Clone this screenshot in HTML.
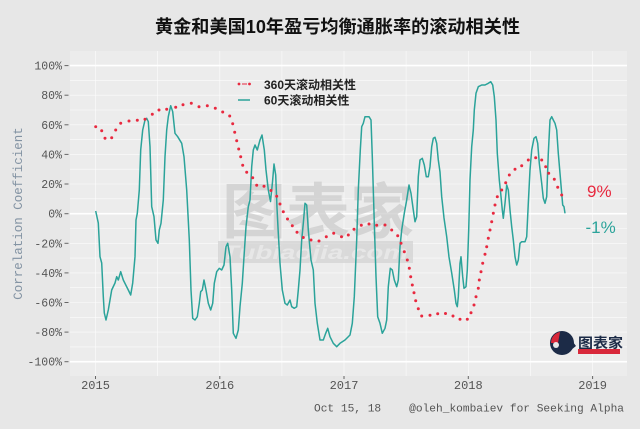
<!DOCTYPE html>
<html><head><meta charset="utf-8"><style>
html,body{margin:0;padding:0;background:#e7e7e7;}
svg{display:block;}
</style></head><body>
<svg width="640" height="429" viewBox="0 0 640 429" xmlns="http://www.w3.org/2000/svg">
<rect x="0" y="0" width="640" height="429" fill="#e7e7e7"/>
<!-- title -->
<text x="337.5" y="33" text-anchor="middle" font-family="Liberation Sans, Noto Sans CJK SC, sans-serif" font-weight="bold" font-size="18" textLength="365" lengthAdjust="spacingAndGlyphs" fill="#111">黄金和美国10年盈亏均衡通胀率的滚动相关性</text>
<!-- panel -->
<rect x="70" y="51" width="557" height="325" fill="#ececec"/>
<g stroke="#ffffff" stroke-width="0.6" opacity="0.85">
<line x1="70" x2="627" y1="80.4" y2="80.4"/><line x1="70" x2="627" y1="95.2" y2="95.2"/><line x1="70" x2="627" y1="110" y2="110"/>
<line x1="70" x2="627" y1="124.8" y2="124.8"/><line x1="70" x2="627" y1="139.6" y2="139.6"/><line x1="70" x2="627" y1="154.4" y2="154.4"/>
<line x1="70" x2="627" y1="169.2" y2="169.2"/><line x1="70" x2="627" y1="184" y2="184"/><line x1="70" x2="627" y1="198.8" y2="198.8"/>
<line x1="70" x2="627" y1="228.5" y2="228.5"/><line x1="70" x2="627" y1="243.3" y2="243.3"/><line x1="70" x2="627" y1="258.1" y2="258.1"/>
<line x1="70" x2="627" y1="272.9" y2="272.9"/><line x1="70" x2="627" y1="287.7" y2="287.7"/><line x1="70" x2="627" y1="302.5" y2="302.5"/>
<line x1="70" x2="627" y1="317.3" y2="317.3"/><line x1="70" x2="627" y1="332.1" y2="332.1"/><line x1="70" x2="627" y1="346.9" y2="346.9"/>
<line y1="51" y2="376" x1="95.5" x2="95.5"/><line y1="51" y2="376" x1="157.6" x2="157.6"/><line y1="51" y2="376" x1="219.8" x2="219.8"/>
<line y1="51" y2="376" x1="281.9" x2="281.9"/><line y1="51" y2="376" x1="344" x2="344"/><line y1="51" y2="376" x1="406.1" x2="406.1"/>
<line y1="51" y2="376" x1="468.3" x2="468.3"/><line y1="51" y2="376" x1="530.4" x2="530.4"/><line y1="51" y2="376" x1="592.6" x2="592.6"/>
</g>
<g stroke="#ffffff" stroke-width="1.6">
<line x1="70" x2="627" y1="65.6" y2="65.6"/><line x1="70" x2="627" y1="213.7" y2="213.7"/><line x1="70" x2="627" y1="361.7" y2="361.7"/>
</g>
<!-- watermark -->
<g opacity="0.75">
<text x="222" y="233" font-family="Liberation Sans, Noto Sans CJK SC, sans-serif" font-weight="bold" font-size="60" textLength="192" lengthAdjust="spacingAndGlyphs" fill="#cdcdcd">图表家</text>
<rect x="218" y="241" width="195" height="22" fill="#d3d3d3"/>
<text x="222" y="259" font-family="Liberation Sans, sans-serif" font-weight="bold" font-style="italic" font-size="19" textLength="186" lengthAdjust="spacingAndGlyphs" fill="#e6e6e6">Tubiaojia.com</text>
</g>
<!-- teal series -->
<polyline fill="none" stroke="#2ba39a" stroke-width="1.5" stroke-linejoin="round" points="95.7,211 98.3,223 100,256.7 101.7,263 103.3,296.7 104.3,313 106,320 108.3,310 110,300 111.7,290 115,283 116.7,276.7 118.3,280 120.7,271.7 123.3,280 128.3,290 130.7,295 132.7,283 135,256.7 136,220 137.3,213.3 139.3,190 140.7,150 142.7,130 145,120 146.7,118.3 148.3,121.7 150,146.7 151.7,206.7 154,216.7 156,240 158,243.3 159.3,230 161,223.3 163.3,200 165,156.7 166.7,130 168.3,116.7 170.7,105.7 172.7,111.7 175,133.3 177.7,136.7 181.7,143.3 184,156.7 186.7,190 189.3,240 191,290 192.7,318.3 195,320 197.3,316.7 199.3,303.3 200.7,291.7 202.3,290 204,280 206,290 208.3,303.3 210.7,310 212.7,303.3 214.3,283.3 216.7,271.7 219.3,268.3 221.7,270 224,265 226,246.7 227.7,243.3 230,256.7 231.7,290 233.3,333.3 236,338.3 238.3,330 240,306.7 242.3,283.3 244,256.7 246,226.7 248.3,206.7 250,200 251.7,166.7 253.3,150 255,145 257.3,150 260,140 262,135 264.3,150 266,170 268.3,190 270.5,201.5 272.5,182 274,164 275.7,175 277,208 278.3,233.3 280,263.3 282.3,290 285,303.3 287.3,305 290,300 291.7,306.7 294.3,308.3 296.7,306.7 298.3,290 300,270 301.7,240 303.3,223.3 305,203.3 306.7,205 308.3,230 311,260 313.3,270 315,303.3 317.3,323.3 320,340 323.3,340 325.7,333.3 327.7,328.3 330,336.7 333.3,343.3 336.7,346.7 340,343.3 345,340 350,335 352.3,323.3 354.3,296.7 356.7,240 358.3,190 360.3,150 361.7,126.7 363.3,123.3 365,116.7 369,116.7 371,120 372.3,156.7 374.3,223.3 376,276.7 377.7,316.7 380,323.3 382.3,333.3 385,328.3 386.7,320 388.3,286.7 390.3,268.3 392.3,270 394.3,280 396.7,286.7 398.3,280 400,246.7 401.7,230 404.3,213.3 406.7,200 409,185 411,193.3 413.3,210 415,221.7 416.7,216.7 418.3,176.7 420,160 422.3,158.3 424.3,165 426.3,176.7 428.3,176.7 430,166.7 431.7,146.7 433.3,138.3 435,137.3 436.7,143.3 438.3,160 440,172 441.7,196.7 444,218 446.7,236.7 449,257 451.7,273 454.3,290 456,303.3 457.3,306.7 458.3,296.7 460,263.3 461,256.7 462.7,276.7 464,288.3 466,286.7 467.3,270 468.7,230 470,180 471.7,146.7 473.3,130 474.3,110 476,93.3 478.3,86.7 481.7,85 485,85 488.3,83.3 490.7,81.7 492.7,85 494.3,96.7 496,120 497.3,153.3 499.3,180 500.7,193.3 502.3,210 503.3,218.3 505,203.3 506.7,185 508.3,190 510,210 511.7,226.7 513.3,240 515,256.7 516.7,265 518.3,260 520,243.3 521.7,241.7 525,241.7 526.7,236.7 528.3,203.3 530,170 531.7,150 534,138.3 536,136.7 537.7,143.3 539.3,163.3 541.7,183.3 543.3,198.3 545,203.3 546.7,196.7 548.3,153.3 550,120 551.7,116.7 553.3,120 555,123.3 556.7,130 558.3,153.3 560,173.3 561.7,193.3 562.7,205 564,206.7 565,213.3"/>
<!-- red dotted series -->
<g fill="#e8293f">
<circle cx="95.7" cy="126.7" r="1.5"/><circle cx="101.7" cy="130.7" r="1.5"/><circle cx="105" cy="138.3" r="1.5"/><circle cx="111.7" cy="137.7" r="1.5"/><circle cx="115.7" cy="130" r="1.5"/><circle cx="120.7" cy="123.3" r="1.5"/><circle cx="129" cy="121" r="1.5"/><circle cx="137.3" cy="120.3" r="1.5"/><circle cx="145" cy="119.3" r="1.5"/><circle cx="152.3" cy="114.3" r="1.5"/><circle cx="159" cy="110" r="1.5"/><circle cx="166.7" cy="109.3" r="1.5"/><circle cx="175.7" cy="107.3" r="1.5"/><circle cx="183" cy="104.7" r="1.5"/><circle cx="191.3" cy="103.3" r="1.5"/><circle cx="199" cy="106.7" r="1.5"/><circle cx="207.3" cy="105.7" r="1.5"/><circle cx="215.3" cy="108.3" r="1.5"/><circle cx="222.7" cy="112" r="1.5"/><circle cx="229.7" cy="116" r="1.5"/><circle cx="232.7" cy="123.7" r="1.5"/><circle cx="234.7" cy="132.3" r="1.5"/><circle cx="236.7" cy="140.7" r="1.5"/><circle cx="238.7" cy="149" r="1.5"/><circle cx="240.7" cy="156.7" r="1.5"/><circle cx="242.7" cy="165.3" r="1.5"/><circle cx="246.7" cy="172.3" r="1.5"/><circle cx="252.7" cy="177.7" r="1.5"/><circle cx="256.7" cy="185.3" r="1.5"/><circle cx="264" cy="186.3" r="1.5"/><circle cx="271" cy="190.5" r="1.5"/><circle cx="276.7" cy="196.3" r="1.5"/><circle cx="280" cy="204" r="1.5"/><circle cx="283.3" cy="211.7" r="1.5"/><circle cx="287.5" cy="219" r="1.5"/><circle cx="292.3" cy="225.7" r="1.5"/><circle cx="297" cy="232.3" r="1.5"/><circle cx="303.3" cy="237.5" r="1.5"/><circle cx="311" cy="240" r="1.5"/><circle cx="319" cy="241" r="1.5"/><circle cx="326.3" cy="236.7" r="1.5"/><circle cx="333.7" cy="233.3" r="1.5"/><circle cx="341.5" cy="236.7" r="1.5"/><circle cx="348.3" cy="235" r="1.5"/><circle cx="354" cy="229.3" r="1.5"/><circle cx="361.3" cy="225.2" r="1.5"/><circle cx="369" cy="224" r="1.5"/><circle cx="376.7" cy="225.3" r="1.5"/><circle cx="385" cy="225" r="1.5"/><circle cx="391.7" cy="230" r="1.5"/><circle cx="397.7" cy="235.8" r="1.5"/><circle cx="401" cy="243.3" r="1.5"/><circle cx="404.3" cy="251.7" r="1.5"/><circle cx="407.3" cy="260" r="1.5"/><circle cx="409.3" cy="268.3" r="1.5"/><circle cx="410.7" cy="276.7" r="1.5"/><circle cx="412.3" cy="285" r="1.5"/><circle cx="414" cy="292.7" r="1.5"/><circle cx="415.7" cy="300.7" r="1.5"/><circle cx="418.3" cy="308.7" r="1.5"/><circle cx="421.7" cy="316" r="1.5"/><circle cx="430" cy="315.3" r="1.5"/><circle cx="437.7" cy="313.7" r="1.5"/><circle cx="445.5" cy="313.5" r="1.5"/><circle cx="453" cy="316" r="1.5"/><circle cx="460" cy="319.3" r="1.5"/><circle cx="467.3" cy="319.3" r="1.5"/><circle cx="471" cy="312.7" r="1.5"/><circle cx="474" cy="305" r="1.5"/><circle cx="476" cy="296.7" r="1.5"/><circle cx="478.3" cy="288.3" r="1.5"/><circle cx="479.3" cy="280" r="1.5"/><circle cx="481" cy="271.7" r="1.5"/><circle cx="482.7" cy="263.3" r="1.5"/><circle cx="485" cy="254.3" r="1.5"/><circle cx="486.7" cy="246.7" r="1.5"/><circle cx="488.3" cy="238.3" r="1.5"/><circle cx="490" cy="230" r="1.5"/><circle cx="491.7" cy="221.7" r="1.5"/><circle cx="493.3" cy="213.3" r="1.5"/><circle cx="495" cy="205" r="1.5"/><circle cx="497.3" cy="196.7" r="1.5"/><circle cx="501.7" cy="190" r="1.5"/><circle cx="505.7" cy="182.7" r="1.5"/><circle cx="509.3" cy="175" r="1.5"/><circle cx="515" cy="169.3" r="1.5"/><circle cx="521.7" cy="165.7" r="1.5"/><circle cx="528.3" cy="160" r="1.5"/><circle cx="535.7" cy="157.7" r="1.5"/><circle cx="541.7" cy="160" r="1.5"/><circle cx="545.7" cy="166.7" r="1.5"/><circle cx="548.7" cy="173.3" r="1.5"/><circle cx="554.3" cy="179.3" r="1.5"/><circle cx="557.7" cy="187.3" r="1.5"/><circle cx="561.7" cy="195" r="1.5"/>
</g>
<!-- end labels -->
<text x="587" y="197" font-family="Liberation Sans, sans-serif" font-size="17" fill="#e8293f">9%</text>
<text x="585.5" y="233" font-family="Liberation Sans, sans-serif" font-size="17" fill="#2ba39a">-1%</text>
<!-- legend -->
<circle cx="239" cy="84" r="1.4" fill="#e8293f"/><line x1="242" x2="247" y1="84" y2="84" stroke="#e8293f" stroke-width="1"/><circle cx="249.5" cy="84" r="1.4" fill="#e8293f"/>
<line x1="238" x2="250" y1="100" y2="100" stroke="#2ba39a" stroke-width="1.5"/>
<text x="264" y="88.8" font-family="Liberation Sans, Noto Sans CJK SC, sans-serif" font-weight="bold" font-size="12" fill="#222">360天滚动相关性</text>
<text x="264" y="104.5" font-family="Liberation Sans, Noto Sans CJK SC, sans-serif" font-weight="bold" font-size="12" fill="#222">60天滚动相关性</text>
<!-- y axis -->
<g font-family="Liberation Mono, monospace" font-size="11.5" fill="#555" text-anchor="end">
<text x="62" y="69.6">100%</text><text x="62" y="99.2">80%</text><text x="62" y="128.8">60%</text><text x="62" y="158.4">40%</text><text x="62" y="188">20%</text><text x="62" y="217.7">0%</text><text x="62" y="247.3">-20%</text><text x="62" y="276.9">-40%</text><text x="62" y="306.5">-60%</text><text x="62" y="336.1">-80%</text><text x="62" y="365.7">-100%</text>
</g>
<g stroke="#666" stroke-width="1">
<line x1="64.5" x2="68.5" y1="65.6" y2="65.6"/><line x1="64.5" x2="68.5" y1="95.2" y2="95.2"/><line x1="64.5" x2="68.5" y1="124.8" y2="124.8"/><line x1="64.5" x2="68.5" y1="154.4" y2="154.4"/><line x1="64.5" x2="68.5" y1="184" y2="184"/><line x1="64.5" x2="68.5" y1="213.7" y2="213.7"/><line x1="64.5" x2="68.5" y1="243.3" y2="243.3"/><line x1="64.5" x2="68.5" y1="272.9" y2="272.9"/><line x1="64.5" x2="68.5" y1="302.5" y2="302.5"/><line x1="64.5" x2="68.5" y1="332.1" y2="332.1"/><line x1="64.5" x2="68.5" y1="361.7" y2="361.7"/>
<line x1="95.5" x2="95.5" y1="376" y2="379"/><line x1="219.8" x2="219.8" y1="376" y2="379"/><line x1="344" x2="344" y1="376" y2="379"/><line x1="468.3" x2="468.3" y1="376" y2="379"/><line x1="592.6" x2="592.6" y1="376" y2="379"/>
</g>
<text transform="translate(22,213.5) rotate(-90)" text-anchor="middle" font-family="Liberation Mono, monospace" font-size="12.5" fill="#8393a3">Correlation Coefficient</text>
<!-- x axis -->
<g font-family="Liberation Mono, monospace" font-size="12" fill="#555" text-anchor="middle">
<text x="95.5" y="389">2015</text><text x="219.8" y="389">2016</text><text x="344" y="389">2017</text><text x="468.3" y="389">2018</text><text x="592.6" y="389">2019</text>
</g>
<!-- caption -->
<text x="314" y="411.5" font-family="Liberation Mono, monospace" font-size="11.2" fill="#555">Oct 15, 18</text>
<text x="624" y="411.5" text-anchor="end" font-family="Liberation Mono, monospace" font-size="11.2" fill="#555">@oleh_kombaiev for Seeking Alpha</text>
<!-- logo -->
<circle cx="562" cy="343" r="12" fill="#1c2b47"/>
<path d="M551,343 A11,11 0 0 1 560,332 L558,343 Z" fill="#d8283a"/>
<circle cx="556" cy="345" r="3" fill="#e7e7e7"/>
<path d="M570,338 L576,346 L571,350 Z" fill="#1c2b47"/>
<text x="578" y="348" font-family="Liberation Sans, Noto Sans CJK SC, sans-serif" font-weight="bold" font-size="14" textLength="45" lengthAdjust="spacingAndGlyphs" fill="#1c2b47">图表家</text>
<rect x="578" y="349" width="42" height="5" fill="#d8283a"/>
</svg>
</body></html>
